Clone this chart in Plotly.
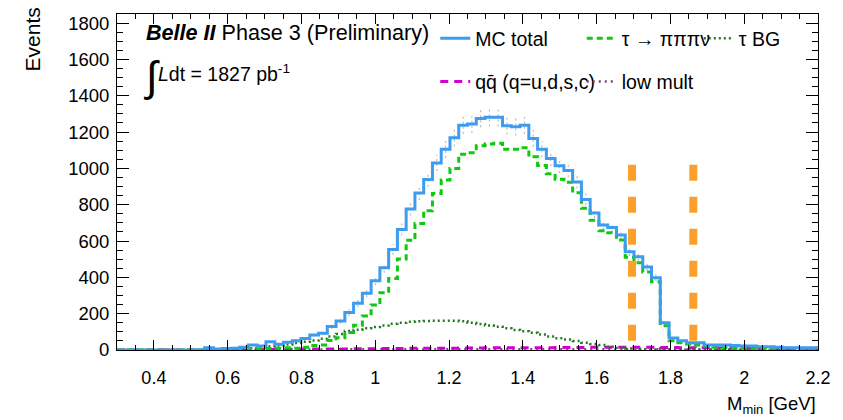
import plotly.graph_objects as go

# ---------------- data ----------------
x_min, x_max, n_bins = 0.3, 2.2, 80
bin_edges = [x_min + i * (x_max - x_min) / n_bins for i in range(n_bins + 1)]

mc_total = [0, 0, 0, 0, 0, 0, 0, 0, 0, 0,
            13, 5, 8, 10, 15, 27, 22, 46, 31, 42,
            51, 64, 83, 92, 130, 160, 207, 257, 312, 381,
            453, 554, 664, 776, 864, 939, 1030, 1105, 1168, 1238,
            1244, 1275, 1281, 1281, 1235, 1229, 1238, 1165, 1105, 1055,
            1015, 989, 925, 829, 755, 688, 674, 633, 541, 514,
            457, 398, 150, 66, 51, 40, 40, 27, 27, 27,
            25, 22, 22, 18, 18, 15, 13, 13, 12, 12]

tau_3pi = [0, 0, 0, 0, 0, 0, 0, 0, 0, 0,
           0, 0, 0, 1, 2, 4, 5, 8, 10, 12,
           9, 15, 25, 27, 52, 68, 97, 136, 187, 248,
           315, 394, 501, 604, 697, 767, 862, 936, 1000, 1078,
           1086, 1125, 1134, 1138, 1105, 1106, 1114, 1064, 1016, 970,
           940, 923, 866, 780, 715, 657, 646, 605, 511, 481,
           429, 376, 134, 51, 40, 33, 27, 22, 15, 12,
           10, 9, 8, 7, 6, 5, 5, 4, 4, 3]

tau_bg = [0, 0, 0, 0, 0, 0, 0, 0, 0, 0,
          1, 1, 2, 3, 5, 10, 15, 20, 25, 30,
          38, 45, 52, 62, 75, 88, 105, 112, 120, 127,
          135, 145, 150, 155, 158, 160, 161, 161, 161, 158,
          150, 143, 135, 128, 120, 110, 103, 95, 85, 75,
          65, 58, 50, 40, 33, 27, 18, 12, 8, 5,
          3, 3, 2, 2, 2, 1, 1, 1, 1, 1,
          1, 1, 1, 0, 0, 0, 0, 0, 0, 0]

qqbar = [0, 0, 0, 0, 0, 0, 0, 0, 0, 0,
         1, 1, 2, 2, 2, 3, 3, 3, 4, 4,
         4, 5, 5, 5, 6, 6, 6, 7, 7, 7,
         8, 8, 8, 9, 9, 9, 10, 10, 10, 11,
         11, 11, 12, 12, 12, 12, 13, 13, 13, 13,
         14, 14, 14, 14, 15, 15, 15, 15, 15, 15,
         15, 15, 14, 14, 13, 13, 12, 12, 11, 11,
         10, 10, 9, 9, 8, 8, 7, 7, 6, 6]

low_mult = [0, 0, 0, 0, 0, 0, 0, 0, 0, 0,
            1, 1, 2, 2, 2, 3, 3, 3, 3, 3,
            3, 3, 3, 3, 4, 4, 4, 4, 4, 4,
            4, 4, 4, 4, 4, 4, 4, 4, 4, 4,
            4, 4, 4, 4, 4, 4, 4, 4, 4, 4,
            4, 4, 4, 4, 4, 4, 4, 4, 4, 4,
            4, 4, 4, 3, 3, 3, 3, 3, 3, 3,
            3, 3, 3, 3, 3, 3, 3, 3, 3, 3]

mc_err = [0, 0, 0, 0, 0, 0, 0, 0, 0, 0,
          4, 3, 3, 4, 5, 6, 5, 8, 6, 7,
          8, 9, 10, 11, 14, 16, 18, 20, 22, 25,
          27, 30, 33, 36, 38, 40, 45, 46, 47, 48,
          48, 49, 50, 50, 48, 48, 48, 46, 44, 42,
          40, 38, 35, 32, 28, 26, 26, 25, 24, 23,
          22, 20, 12, 8, 7, 6, 6, 5, 5, 5,
          5, 5, 5, 4, 4, 4, 4, 4, 4, 4]

cut_positions = [1.696, 1.862]
cut_height = 1020

x_ticks = [0.4, 0.6, 0.8, 1.0, 1.2, 1.4, 1.6, 1.8, 2.0, 2.2]
x_tick_labels = ["0.4", "0.6", "0.8", "1", "1.2", "1.4", "1.6", "1.8", "2", "2.2"]
y_ticks = [0, 200, 400, 600, 800, 1000, 1200, 1400, 1600, 1800]

FONT = "Liberation Sans, Arial, Helvetica, sans-serif"


def step(values):
    return bin_edges, list(values) + [values[-1]]


fig = go.Figure()

# MC statistical uncertainty (grey dotted bars)
ex, ey = [], []
for i, (v, e) in enumerate(zip(mc_total, mc_err)):
    if e > 0:
        c = 0.5 * (bin_edges[i] + bin_edges[i + 1])
        ex += [c, c, None]
        ey += [v - e, v + e, None]
fig.add_trace(go.Scatter(x=ex, y=ey, mode="lines", showlegend=False,
                         line=dict(color="rgba(140,140,140,0.6)", width=1.2, dash="2px,3px"),
                         hoverinfo="skip"))

xs, ys = step(low_mult)
fig.add_trace(go.Scatter(x=xs, y=ys, mode="lines", line_shape="hv", name="low mult",
                         line=dict(color="#7a437a", width=2.5, dash="2px,4px"),
                         legend="legend2", legendgroup="g5", legendrank=2))
xs, ys = step(qqbar)
fig.add_trace(go.Scatter(x=xs, y=ys, mode="lines", line_shape="hv",
                         name="qq\u0304 (q=u,d,s,c)",
                         line=dict(color="#d000d0", width=3, dash="8px,6px"),
                         legend="legend", legendgroup="g4", legendrank=2))
xs, ys = step(tau_bg)
fig.add_trace(go.Scatter(x=xs, y=ys, mode="lines", line_shape="hv", name="\u03c4 BG",
                         line=dict(color="#237a23", width=2.5, dash="2px,3px"),
                         legend="legend3", legendgroup="g3", legendrank=1))
xs, ys = step(tau_3pi)
fig.add_trace(go.Scatter(x=xs, y=ys, mode="lines", line_shape="hv",
                         name="\u03c4 \u2192 \u03c0\u03c0\u03c0\u03bd",
                         line=dict(color="#10c810", width=3, dash="6px,4px"),
                         legend="legend2", legendgroup="g2", legendrank=1))
xs, ys = step(mc_total)
fig.add_trace(go.Scatter(x=xs, y=ys, mode="lines", line_shape="hv", name="MC total",
                         line=dict(color="#3d9bf0", width=3),
                         legend="legend", legendgroup="g1", legendrank=1))

for xc in cut_positions:
    fig.add_trace(go.Scatter(x=[xc, xc], y=[cut_height, 0], mode="lines", showlegend=False,
                             line=dict(color="#f9a12a", width=8, dash="16px,16px"),
                             hoverinfo="skip"))

legend_common = dict(bgcolor="rgba(0,0,0,0)", font=dict(family=FONT, size=19.5, color="black"),
                     orientation="v", tracegroupgap=15, yanchor="top", xanchor="left",
                     itemwidth=30, traceorder="grouped")

# page body adds an 8px offset; figure is sized so the plot frame lands at 117..818 x 14..350
fig.update_layout(
    width=835, height=412,
    margin=dict(l=109, r=25, t=6, b=70),
    paper_bgcolor="white", plot_bgcolor="white",
    font=dict(family=FONT, size=18, color="black"),
    legend=dict(x=0.454, y=0.985, **legend_common),
    legend2=dict(x=0.663, y=0.985, **legend_common),
    legend3=dict(x=0.830, y=0.985, **legend_common),
    xaxis=dict(range=[x_min, x_max], tickmode="array", tickvals=x_ticks, ticktext=x_tick_labels,
               ticks="inside", ticklen=10, tickwidth=1, tickcolor="black",
               minor=dict(ticks="inside", ticklen=5, dtick=0.05, tick0=0, tickcolor="black"),
               showline=True, linecolor="black", linewidth=1, mirror="allticks",
               showgrid=False, zeroline=False,
               tickfont=dict(family=FONT, size=18), ticklabelstandoff=11),
    yaxis=dict(range=[0, 1850], tickmode="array", tickvals=y_ticks,
               ticks="inside", ticklen=12, tickwidth=1, tickcolor="black",
               minor=dict(ticks="inside", ticklen=6, dtick=50, tick0=0, tickcolor="black"),
               showline=True, linecolor="black", linewidth=1, mirror="allticks",
               showgrid=False, zeroline=False,
               tickfont=dict(family=FONT, size=18.5), ticklabelstandoff=3),
    annotations=[
        dict(text="<b><i>Belle II</i></b> Phase 3 (Preliminary)", x=0.038, y=0.945,
             xref="paper", yref="paper", xanchor="left", yanchor="middle", showarrow=False,
             font=dict(family=FONT, size=21.6)),
        dict(text="\u222b", x=0.036, y=0.815, xref="paper", yref="paper",
             xanchor="left", yanchor="middle", showarrow=False,
             font=dict(family=FONT, size=42)),
        dict(text="<i>L</i>dt = 1827 pb<sup>-1</sup>", x=0.056, y=0.825,
             xref="paper", yref="paper", xanchor="left", yanchor="middle", showarrow=False,
             font=dict(family=FONT, size=19.5)),
        dict(text="Events", x=-0.12, y=1.025, xref="paper", yref="paper", textangle=-90,
             xanchor="center", yanchor="top", showarrow=False, font=dict(family=FONT, size=21)),
        dict(text="M<sub>min</sub> [GeV]", x=1.0, y=-0.165, xref="paper", yref="paper",
             xanchor="right", yanchor="middle", showarrow=False, font=dict(family=FONT, size=18.5)),
    ],
)

fig.write_html("out.html")
